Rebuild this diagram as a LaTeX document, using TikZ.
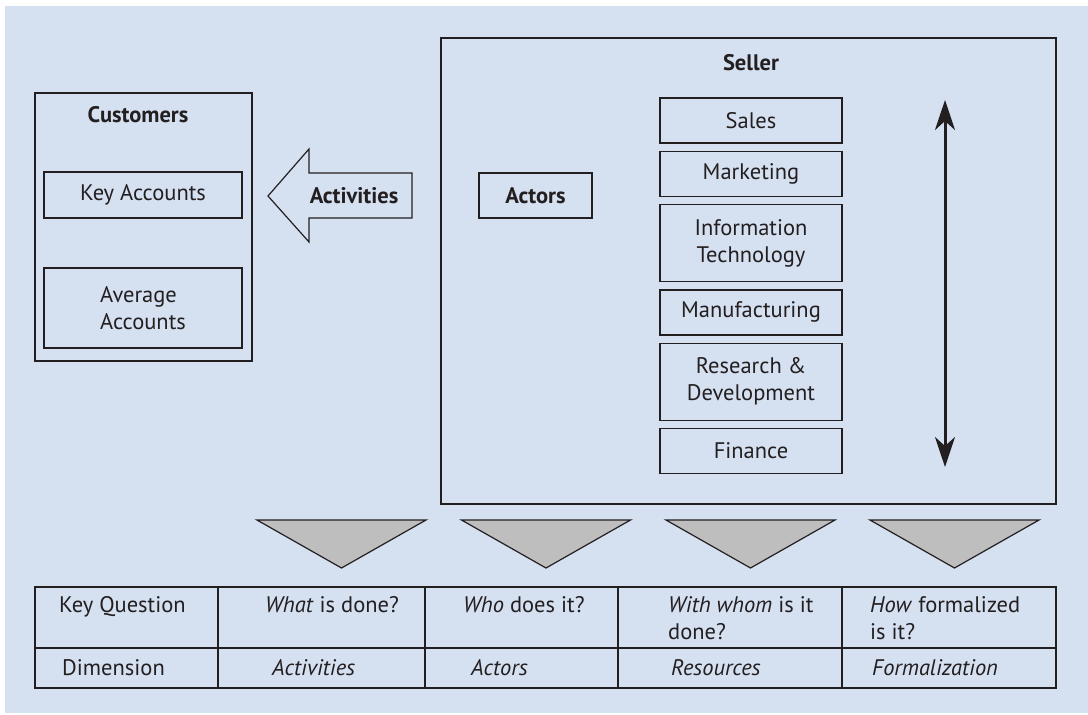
\documentclass[tikz,border=0pt]{standalone}
\usepackage{fontspec}
\setmainfont{PT Sans}
\usetikzlibrary{arrows.meta,positioning}
\definecolor{PaleBlue}{HTML}{D5E0F1}
\definecolor{Ink}{HTML}{231F20}
\definecolor{TriGray}{HTML}{BEBEBE}
\tikzset{
  box/.style={draw=Ink, line width=1.3pt, minimum height=45pt, inner sep=2pt, align=center, text=Ink},
  unitbox/.style={box, minimum width=182pt},
  frame/.style={draw=Ink, line width=1.5pt},
  lbl/.style={text=Ink, inner sep=0pt},
  cell/.style={lbl, anchor=north west, align=left},
  dimcell/.style={lbl, anchor=base west},
  arr/.style={{Stealth[length=30pt,width=20pt,inset=9pt]}-{Stealth[length=30pt,width=20pt,inset=9pt]}, line width=3pt, draw=Ink}
}

\begin{document}
\begin{tikzpicture}[x=1pt,y=-1pt,node distance=7pt,font=\fontsize{22.5}{27}\selectfont]
\useasboundingbox (0,0) rectangle (1088,715);
\fill[PaleBlue] (5,6) rectangle (1088,713);

% customers
\draw[frame] (35,93) rectangle (252,361);
\node[lbl,font=\fontsize{22.5}{27}\selectfont\bfseries] (cust) at (138,115) {Customers};
\node[box,minimum width=198pt,minimum height=46pt] (key) at (143,195) {Key Accounts};
\node[box,minimum width=198pt,minimum height=80pt,align=left] (avg) at (143,308) {Average\\Accounts};

% activities arrow
\draw[line width=1.2pt,draw=Ink] (268,196) -- (309,149) -- (309,173) -- (412,173) -- (412,218) -- (309,218) -- (309,242) -- cycle;
\node[lbl,font=\fontsize{22.5}{27}\selectfont\bfseries] (acts) at (354,196) {Activities};

% seller
\draw[frame] (441,38) rectangle (1056,504);
\node[lbl,font=\fontsize{22.5}{27}\selectfont\bfseries] (seller) at (751,63) {Seller};
\node[box,minimum width=113pt,font=\fontsize{22.5}{27}\selectfont\bfseries] (actors) at (535.5,195.5) {Actors};
\node[unitbox] (sales) at (751,120.5) {Sales};
\node[unitbox,below=of sales] (mkt) {Marketing};
\node[unitbox,minimum height=77pt,below=of mkt] (it) {Information\\Technology};
\node[unitbox,below=of it] (manu) {Manufacturing};
\node[unitbox,minimum height=77pt,below=of manu] (rnd) {Research \&\\Development};
\node[unitbox,below=of rnd] (fin) {Finance};
\coordinate (up) at (945,100);
\coordinate (dn) at (945,467);
\draw[arr] (up) -- (dn);

% funnels
\foreach \x in {341.5,546,750.5,954.5}
  \draw[line width=1.2pt,draw=Ink,fill=TriGray] (\x-84.5,520) -- (\x+84.5,520) -- (\x,568) -- cycle;

% table
\draw[line width=1.3pt,draw=Ink] (35,587) rectangle (1056,688);
\draw[line width=1.3pt,draw=Ink] (35,648) -- (1056,648);
\foreach \x in {218,425,618,842}
  \draw[line width=1.3pt,draw=Ink] (\x,587) -- (\x,688);
\node[cell] (kq) at (59,596) {Key Question};
\node[cell] (qwhat) at (265,596) {\textit{What} is done?};
\node[cell] (qwho) at (463,596) {\textit{Who} does it?};
\node[cell] (qwhom) at (668,596) {\textit{With whom} is it\\done?};
\node[cell] (qhow) at (870,596) {\textit{How} formalized\\is it?};
\node[dimcell] (dim) at (62,675) {Dimension};
\node[dimcell] (dact) at (272,675) {\textit{Activities}};
\node[dimcell] (dactors) at (471,675) {\textit{Actors}};
\node[dimcell] (dres) at (671,675) {\textit{Resources}};
\node[dimcell] (dform) at (872,675) {\textit{Formalization}};
\end{tikzpicture}
\end{document}
